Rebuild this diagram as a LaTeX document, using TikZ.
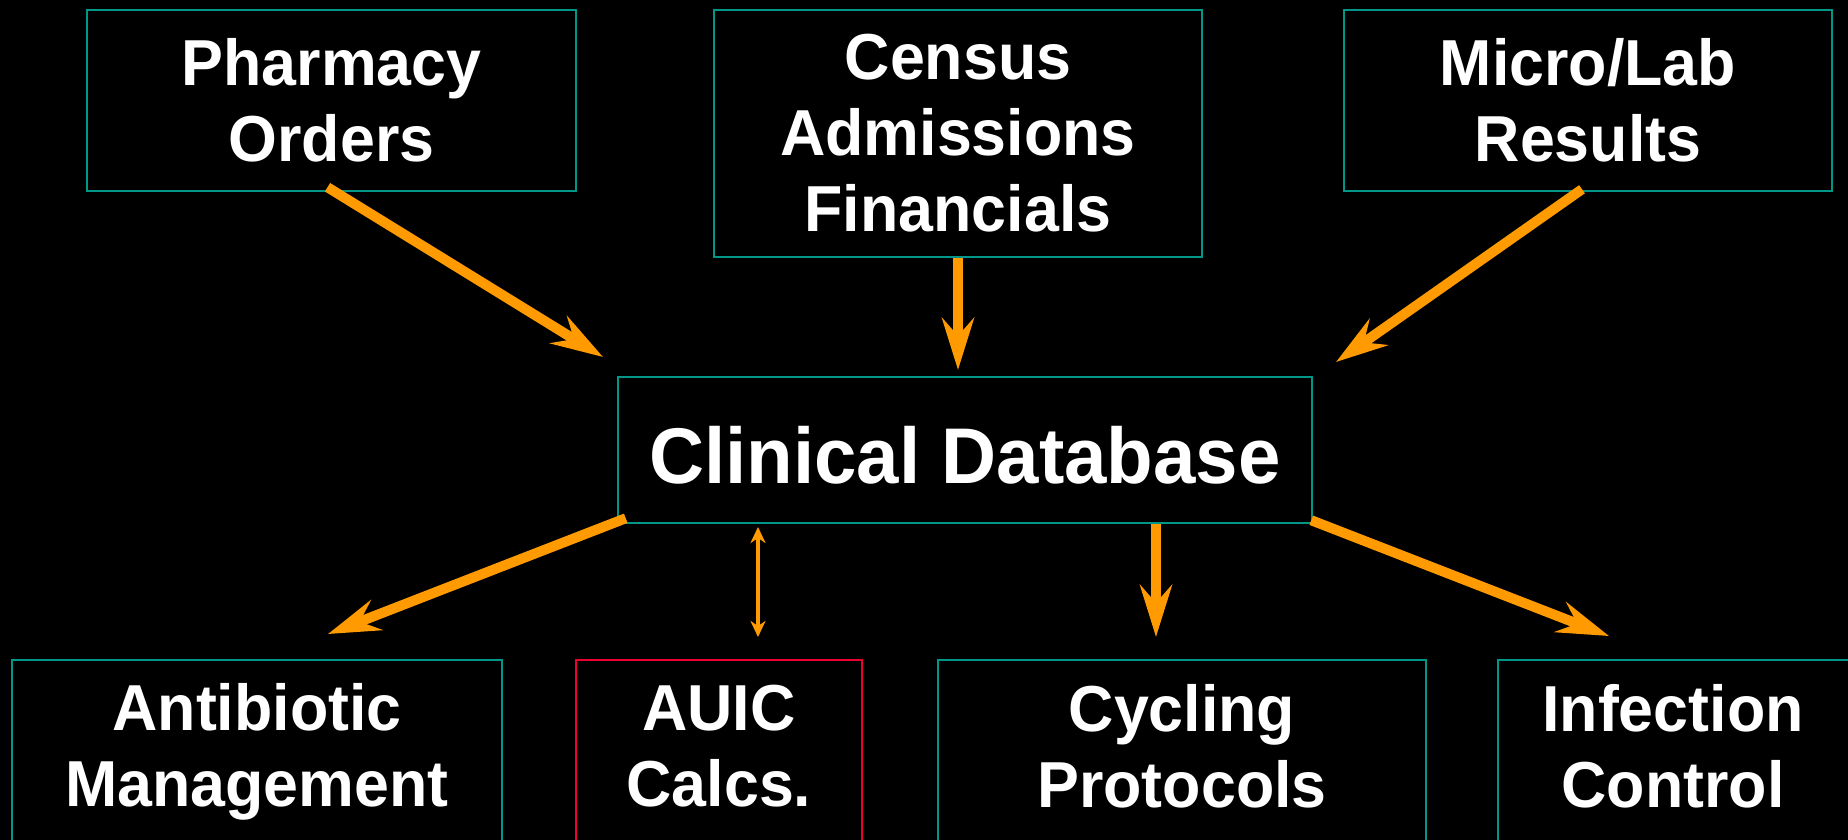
\documentclass[tikz,border=0pt]{standalone}
\usepackage{fontspec}
\setmainfont{Liberation Sans}[FakeStretch=0.965]
\usetikzlibrary{arrows.meta}
\definecolor{boxteal}{RGB}{0,150,136}
\definecolor{boxred}{RGB}{240,0,50}
\definecolor{flow}{RGB}{255,155,0}
\begin{document}
\begin{tikzpicture}[x=1pt,y=-1pt,
  txt/.style={text=white,font=\bfseries\fontsize{65}{76}\selectfont,align=center,inner sep=0pt},
  srcbox/.style={txt,draw=boxteal,line width=2.5pt},
  frame/.style={draw=boxteal,line width=2.5pt},
  bigflow/.style={draw=flow,line width=10pt,-{Stealth[length=52pt,width=32pt,inset=18pt,fill=flow]}},
  thinflow/.style={draw=flow,line width=4pt,{Stealth[length=16pt,width=15pt,inset=5pt,fill=flow]}-{Stealth[length=16pt,width=15pt,inset=5pt,fill=flow]}}]
  % canvas
  \fill[black] (0,0) rectangle (1848,840);
  \useasboundingbox (0,0) rectangle (1848,840);

  % data sources
  \node[srcbox,minimum width=489pt,minimum height=181pt] (pharm) at (331.5,100.5) {Pharmacy\\Orders};
  \node[srcbox,minimum width=488pt,minimum height=247pt] (census) at (958,133.5) {Census\\Admissions\\Financials};
  \node[srcbox,minimum width=488pt,minimum height=181pt] (micro) at (1588,100.5) {Micro/Lab\\Results};

  % central store
  \node[srcbox,font=\bfseries\fontsize{79}{90}\selectfont,text height=66pt,text depth=0pt,
        minimum width=694pt,minimum height=146pt] (clin) at (965,450) {Clinical Database};

  % consumers (frames run past the lower edge)
  \node[txt] (abx) at (257,752) {Antibiotic\\Management};
  \node[txt] (auic) at (719,746) {AUIC\\Calcs.};
  \node[txt] (cyc) at (1182,746) {Cycling\\Protocols};
  \node[txt] (inf) at (1673,746) {Infection\\Control};
  \draw[frame] (12,660) rectangle (502,900);
  \draw[frame,draw=boxred] (576,660) rectangle (862,900);
  \draw[frame] (938,660) rectangle (1426,900);
  \draw[frame] (1498,660) rectangle (1900,900);

  % arrow ends
  \coordinate (inPh) at (603,357);
  \coordinate (inCe) at (958,370);
  \coordinate (inMi) at (1336,362);
  \coordinate (toAbx) at (328,634);
  \coordinate (auicTop) at (758,527);
  \coordinate (auicBot) at (758,637);
  \coordinate (toCyc) at (1156,637);
  \coordinate (toInf) at (1609,636);

  % feeds into the database
  \draw[bigflow] ([shift={(-4pt,5pt)}]pharm.south) -- (inPh);
  \draw[bigflow] (census.south) -- (inCe);
  \draw[bigflow] ([shift={(-6pt,3pt)}]micro.south) -- (inMi);

  % outputs from the database
  \draw[bigflow] ([shift={(9pt,6pt)}]clin.south west) -- (toAbx);
  \draw[thinflow] (auicTop) -- (auicBot);
  \draw[bigflow] (clin.south -| toCyc) -- (toCyc);
  \draw[bigflow] ([shift={(-2pt,4pt)}]clin.south east) -- (toInf);
\end{tikzpicture}
\end{document}
